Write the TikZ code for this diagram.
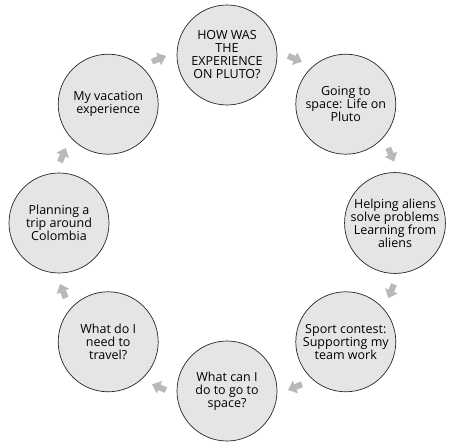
\documentclass[tikz,border=0pt]{standalone}
\usepackage{fontspec}
\setmainfont{Open Sans}
\usetikzlibrary{arrows.meta}
\begin{document}
\begin{tikzpicture}[x=1pt, y=1pt, line join=round,
	bubble/.style={circle, draw=black!85, line width=0.7pt, fill=black!10, minimum size=100pt, inner sep=0pt, align=center, font=\fontsize{12.5}{13}\selectfont},
	flow/.style={draw=black!28, line width=6pt, -{Triangle[length=8pt,width=13pt]}}]
	\useasboundingbox (-227,-223) rectangle (227,223);
	\path (90:168) node[bubble] (how) {HOW WAS\\THE\\EXPERIENCE\\ON PLUTO?};
	\path (45:168) node[bubble] (space) {Going to\\space: Life on\\Pluto};
	\path (0:168) node[bubble] (aliens) {Helping aliens\\solve problems\\Learning from\\aliens};
	\path (-45:168) node[bubble] (sport) {Sport contest:\\Supporting my\\team work};
	\path (-90:168) node[bubble] (cando) {What can I\\do to go to\\space?};
	\path (-135:168) node[bubble] (travel) {What do I\\need to\\travel?};
	\path (180:168) node[bubble] (plan) {Planning a\\trip around\\Colombia};
	\path (135:168) node[bubble] (vacation) {My vacation\\experience};
	% gaps between the bubbles, along the ring
	\path (how) to[bend left=22.5] coordinate[pos=0.28] (a1) coordinate[pos=0.72] (b1) (space)
		(space) to[bend left=22.5] coordinate[pos=0.28] (a2) coordinate[pos=0.72] (b2) (aliens)
		(aliens) to[bend left=22.5] coordinate[pos=0.28] (a3) coordinate[pos=0.72] (b3) (sport)
		(sport) to[bend left=22.5] coordinate[pos=0.28] (a4) coordinate[pos=0.72] (b4) (cando)
		(cando) to[bend left=22.5] coordinate[pos=0.28] (a5) coordinate[pos=0.72] (b5) (travel)
		(travel) to[bend left=22.5] coordinate[pos=0.28] (a6) coordinate[pos=0.72] (b6) (plan)
		(plan) to[bend left=22.5] coordinate[pos=0.28] (a7) coordinate[pos=0.72] (b7) (vacation)
		(vacation) to[bend left=22.5] coordinate[pos=0.28] (a8) coordinate[pos=0.72] (b8) (how);
	\draw[flow] (a1)--(b1);
	\draw[flow] (a2)--(b2);
	\draw[flow] (a3)--(b3);
	\draw[flow] (a4)--(b4);
	\draw[flow] (a5)--(b5);
	\draw[flow] (a6)--(b6);
	\draw[flow] (a7)--(b7);
	\draw[flow] (a8)--(b8);
\end{tikzpicture}
\end{document}
